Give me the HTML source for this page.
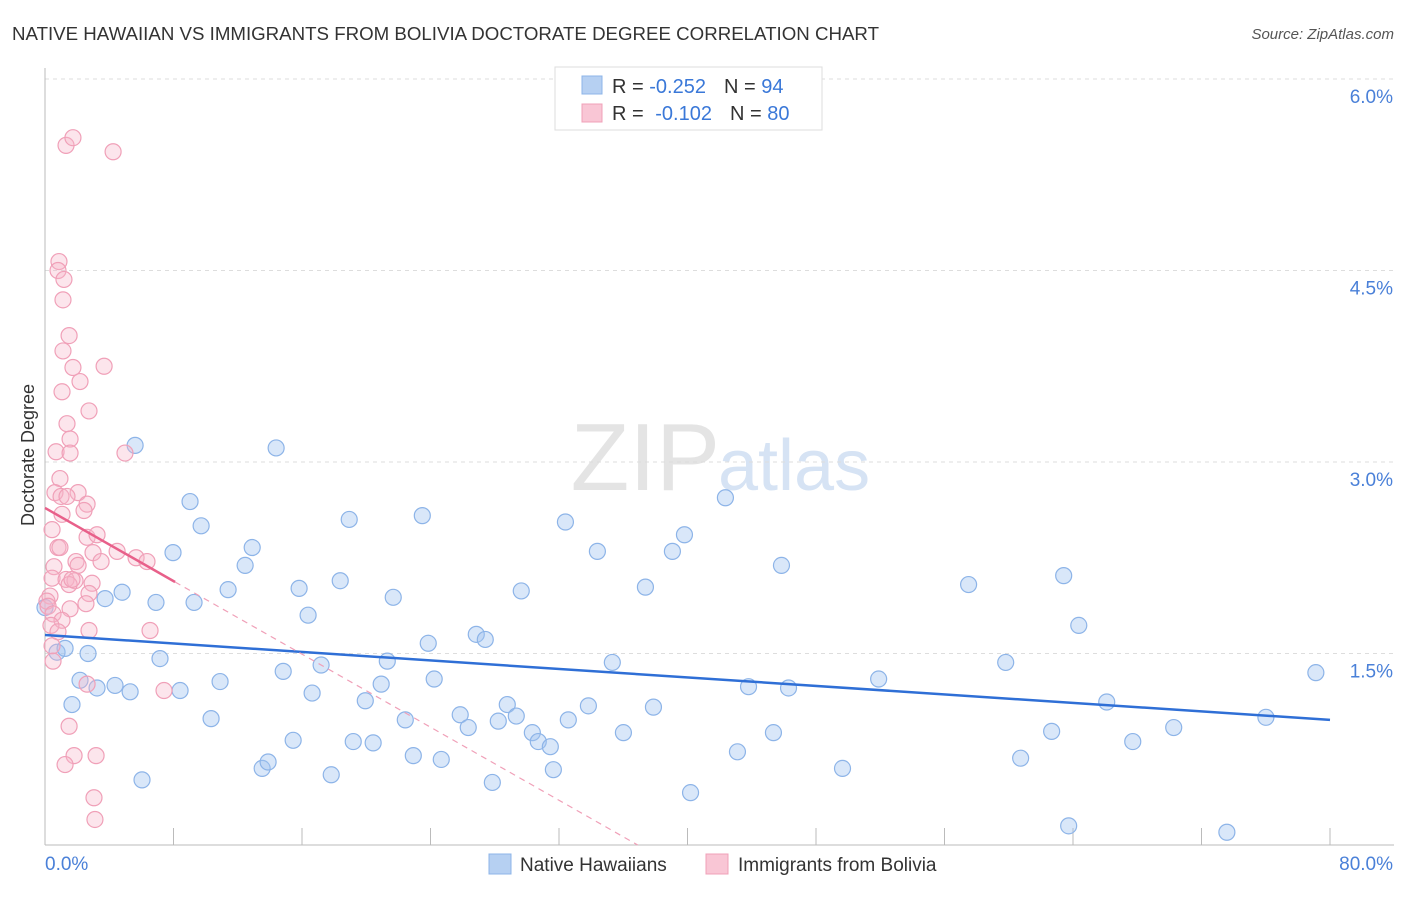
<!DOCTYPE html>
<html><head><meta charset="utf-8"><style>
body{margin:0;background:#fff;font-family:"Liberation Sans",sans-serif}
svg text{font-family:"Liberation Sans",sans-serif}
</style></head><body>
<svg id="chart" width="1406" height="892">
<text x="12" y="40" font-size="18.7" fill="#333">NATIVE HAWAIIAN VS IMMIGRANTS FROM BOLIVIA DOCTORATE DEGREE CORRELATION CHART</text>
<text x="1394" y="39" font-size="15" fill="#555" font-style="italic" text-anchor="end">Source: ZipAtlas.com</text>
<text x="720" y="490" font-size="96" fill="#e4e4e4" text-anchor="end" font-family="Liberation Serif">ZIP</text>
<text x="718" y="490" font-size="72" fill="#d6e3f4">atlas</text>
<text x="34" y="455" font-size="18" fill="#333" transform="rotate(-90 34 455)" text-anchor="middle">Doctorate Degree</text>
<g id="grid"></g><g id="axes"></g><g id="pts"></g><g id="trends"></g>
<g>
<rect x="555" y="67" width="267" height="63" fill="#fff" stroke="#ddd"/>
<rect x="582" y="76" width="20" height="18" fill="#b6d0f2" stroke="#8db4e8"/>
<rect x="582" y="104" width="20" height="18" fill="#f9c6d5" stroke="#f0a0b8"/>
<text x="612" y="93" font-size="20" fill="#333">R = <tspan fill="#3a78d8">-0.252</tspan><tspan dx="18">N = </tspan><tspan fill="#3a78d8">94</tspan></text>
<text x="612" y="120" font-size="20" fill="#333">R = <tspan dx="6" fill="#3a78d8">-0.102</tspan><tspan dx="18">N = </tspan><tspan fill="#3a78d8">80</tspan></text>
</g>
<g>
<rect x="489" y="854" width="22" height="20" fill="#b6d0f2" stroke="#8db4e8"/>
<text x="520" y="871" font-size="19" fill="#333">Native Hawaiians</text>
<rect x="706" y="854" width="22" height="20" fill="#f9c6d5" stroke="#f0a0b8"/>
<text x="738" y="871" font-size="19" fill="#333">Immigrants from Bolivia</text>
</g>
</svg>
<script>
const blueX=[0,0.75,1.25,1.68,2.18,2.68,3.24,3.74,4.36,4.8,5.3,5.61,6.04,6.91,7.16,7.97,8.41,9.03,9.28,9.72,10.34,10.9,11.4,12.46,12.9,13.52,13.89,14.39,14.83,15.45,15.82,16.38,16.63,17.19,17.82,18.38,18.94,19.19,19.94,20.43,20.93,21.31,21.68,22.43,22.93,23.49,23.86,24.23,24.67,25.85,26.35,26.85,27.41,27.85,28.22,28.78,29.34,29.65,30.34,30.71,31.46,31.65,32.4,32.58,33.83,34.39,35.32,36.01,37.38,37.88,39.06,39.81,40.19,42.36,43.11,43.8,45.35,45.85,46.29,49.65,51.9,57.5,59.81,60.74,62.67,63.42,63.73,64.36,66.1,67.72,70.27,73.58,76.01,79.12];
const blueY=[1.86,1.51,1.54,1.1,1.29,1.5,1.23,1.93,1.25,1.98,1.2,3.13,0.51,1.9,1.46,2.29,1.21,2.69,1.9,2.5,0.99,1.28,2,2.19,2.33,0.6,0.65,3.11,1.36,0.82,2.01,1.8,1.19,1.41,0.55,2.07,2.55,0.81,1.13,0.8,1.26,1.44,1.94,0.98,0.7,2.58,1.58,1.3,0.67,1.02,0.92,1.65,1.61,0.49,0.97,1.1,1.01,1.99,0.88,0.81,0.77,0.59,2.53,0.98,1.09,2.3,1.43,0.88,2.02,1.08,2.3,2.43,0.41,2.72,0.73,1.24,0.88,2.19,1.23,0.6,1.3,2.04,1.43,0.68,0.89,2.11,0.15,1.72,1.12,0.81,0.92,0.1,1,1.35];
const pinkX=[1.31,1.74,4.24,0.87,0.81,1.18,1.12,1.5,1.12,3.68,1.74,2.18,1.06,2.74,1.37,1.56,0.69,1.56,4.98,0.93,0.62,1,2.06,1.37,2.62,2.43,1.06,0.44,2.62,3.24,0.81,0.93,4.49,2.99,5.67,1.93,6.35,3.49,0.56,2.06,0.44,1.31,1.87,2.93,1.5,1.68,2.74,0.31,0.12,0.19,2.55,1.56,0.5,1.06,0.37,2.74,0.81,6.54,0.44,0.5,2.62,7.41,1.5,1.81,3.18,1.25,3.05,3.11];
const pinkY=[5.48,5.54,5.43,4.57,4.5,4.43,4.27,3.99,3.87,3.75,3.74,3.63,3.55,3.4,3.3,3.18,3.08,3.07,3.07,2.87,2.76,2.73,2.76,2.73,2.67,2.62,2.59,2.47,2.41,2.43,2.33,2.33,2.3,2.29,2.25,2.22,2.22,2.22,2.18,2.19,2.09,2.08,2.07,2.05,2.04,2.08,1.97,1.95,1.91,1.87,1.89,1.85,1.81,1.76,1.72,1.68,1.67,1.68,1.56,1.44,1.26,1.21,0.93,0.7,0.7,0.63,0.37,0.2];
const yTicks=[1.5,3.0,4.5,6.0];
const xTickLabels=["0.0%","80.0%"];
const blueTrend=[[0,1.645],[80,0.98]];
const pinkTrendSolid=[[0,2.64],[8.1,2.06]];
const pinkTrendDash=[[8.1,2.06],[36.9,0]];
const NS='http://www.w3.org/2000/svg';
const X=v=>45+v/80*1285, Y=v=>845-v*127.67;
function mk(tag,attrs,parent){const e=document.createElementNS(NS,tag);for(const k in attrs)e.setAttribute(k,attrs[k]);parent.appendChild(e);return e;}
const grid=document.getElementById('grid'),axes=document.getElementById('axes'),pts=document.getElementById('pts'),tr=document.getElementById('trends');
yTicks.forEach(t=>{const l=mk('line',{x1:45,y1:Y(t),x2:1394,y2:Y(t),stroke:'#ddd','stroke-dasharray':'4,4'},grid);


const tx=mk('text',{x:1393,y:Y(t)+24,'font-size':19,fill:'#4a80d8','text-anchor':'end'},grid);tx.textContent=t.toFixed(1)+'%';

});
mk('line',{x1:45,y1:68,x2:45,y2:845,stroke:'#bbb'},axes);
mk('line',{x1:45,y1:845,x2:1394,y2:845,stroke:'#bbb'},axes);
for(let i=0;i<=10;i++){mk('line',{x1:X(i*8),y1:828,x2:X(i*8),y2:845,stroke:'#bbb'},axes);}
const xl0=mk('text',{x:45,y:870,'font-size':19,fill:'#4a80d8'},axes);xl0.textContent=xTickLabels[0];


const xl1=mk('text',{x:1393,y:870,'font-size':19,fill:'#4a80d8','text-anchor':'end'},axes);xl1.textContent=xTickLabels[1];


blueX.forEach((x,i)=>{const c=mk('circle',{cx:X(x),cy:Y(blueY[i]),r:8,fill:'rgba(160,196,240,0.4)',stroke:'#8db4e8','stroke-width':1.2},pts);

});
pinkX.forEach((x,i)=>{const c=mk('circle',{cx:X(x),cy:Y(pinkY[i]),r:8,fill:'rgba(245,180,200,0.35)',stroke:'#f0a0b8','stroke-width':1.2},pts);

});
const bt=mk('line',{x1:X(blueTrend[0][0]),y1:Y(blueTrend[0][1]),x2:X(blueTrend[1][0]),y2:Y(blueTrend[1][1]),stroke:'#2f6fd6','stroke-width':2.5},tr);


const pt=mk('line',{x1:X(pinkTrendSolid[0][0]),y1:Y(pinkTrendSolid[0][1]),x2:X(pinkTrendSolid[1][0]),y2:Y(pinkTrendSolid[1][1]),stroke:'#e8608a','stroke-width':2.5},tr);


const pd=mk('line',{x1:X(pinkTrendDash[0][0]),y1:Y(pinkTrendDash[0][1]),x2:X(pinkTrendDash[1][0]),y2:Y(pinkTrendDash[1][1]),stroke:'#f0a0b8','stroke-width':1.2,'stroke-dasharray':'6,5'},tr);


</script>
</body></html>
